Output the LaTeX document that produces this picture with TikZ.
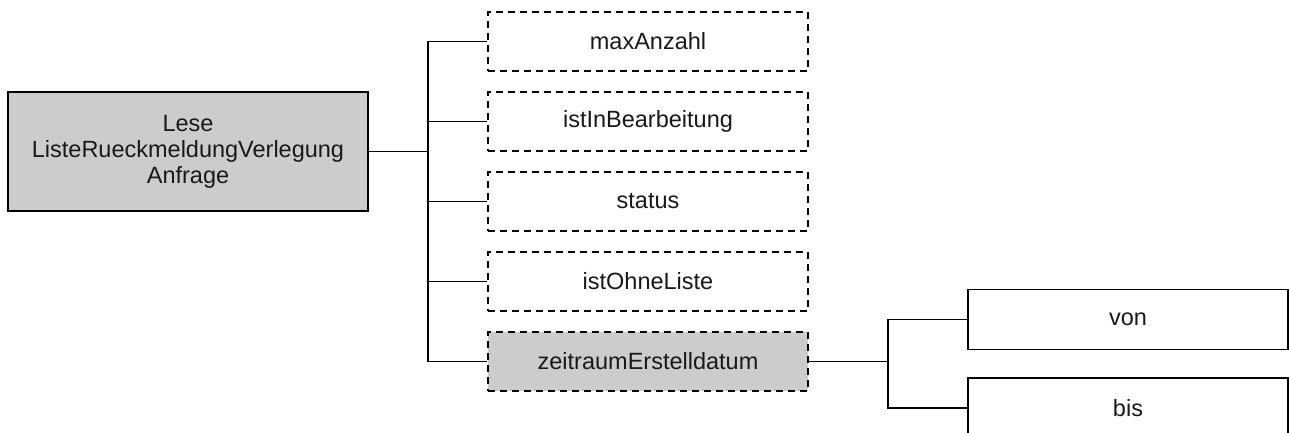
\documentclass[tikz,border=0pt]{standalone}
\usepackage{fontspec}
\setmainfont{Liberation Sans}
\begin{document}
\begin{tikzpicture}[x=1pt,y=-1pt,
  every node/.style={font=\fontsize{23.5}{26}\selectfont, text=black!90, align=center, inner sep=0pt},
  rootbox/.style={draw, line width=1.6pt, fill=black!20, minimum width=360pt, minimum height=119pt},
  attrbox/.style={draw, line width=1.6pt, dash pattern=on 7pt off 5pt, minimum width=320pt, minimum height=59pt},
  graybox/.style={attrbox, fill=black!20},
  subbox/.style={draw, line width=1.6pt, minimum width=320pt, minimum height=60pt},
  conn/.style={line width=1.6pt}]
\useasboundingbox (0,0) rectangle (1289,432);
\node[rootbox] (root) at (188,151.5) {Lese\\ListeRueckmeldungVerlegung\\Anfrage};
\node[attrbox] (a1) at (648,41.5) {maxAnzahl};
\node[attrbox] (a2) at (648,121.5) {istInBearbeitung};
\node[attrbox] (a3) at (648,201.5) {status};
\node[attrbox] (a4) at (648,281.5) {istOhneListe};
\node[graybox] (a5) at (648,361.5) {zeitraumErstelldatum};
\node[subbox] (s1) at (1128,319.5) {von};
\node[subbox] (s2) at (1128,408) {bis};
\coordinate (j1) at (428,151.5);
\coordinate (j2) at (888,361.5);
\draw[conn] (root.east) -- (j1);
\foreach \c in {a1,a2,a3,a4,a5} \draw[conn] (j1) |- (\c.west);
\draw[conn] (a5.east) -- (j2);
\foreach \c in {s1,s2} \draw[conn] (j2) |- (\c.west);
\end{tikzpicture}
\end{document}
